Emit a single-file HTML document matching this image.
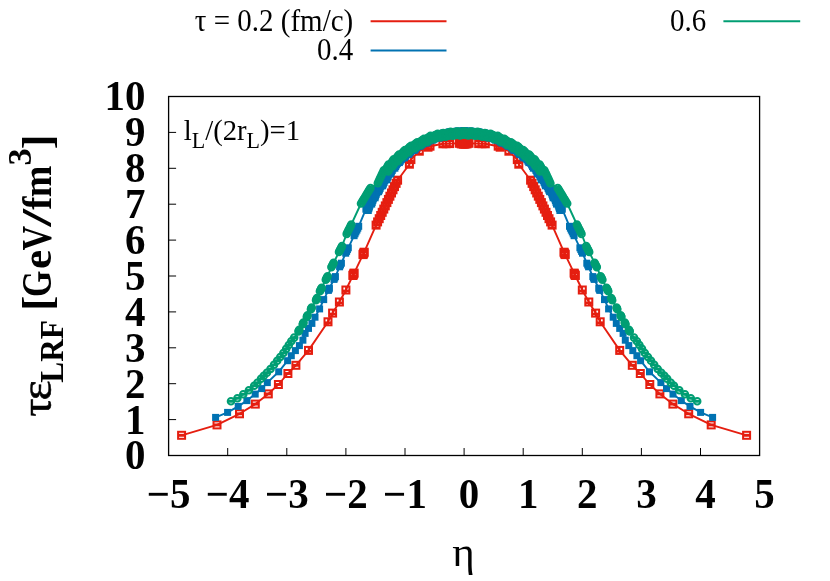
<!DOCTYPE html>
<html><head><meta charset="utf-8"><title>plot</title>
<style>
html,body{margin:0;padding:0;background:#fff;}
svg{display:block;font-family:"Liberation Serif",serif;}
</style></head><body>
<svg width="830" height="581" viewBox="0 0 830 581">
<defs>
<marker id="mr" markerUnits="userSpaceOnUse" markerWidth="12" markerHeight="12" refX="0" refY="0" viewBox="-6 -6 12 12"><rect x="-3.5" y="-3.5" width="7" height="7" fill="none" stroke="#e51e10" stroke-width="2"/><path d="M-3.5,0 h7" stroke="#e51e10" stroke-width="2.9"/></marker>
<marker id="mr3" markerUnits="userSpaceOnUse" markerWidth="12" markerHeight="12" refX="0" refY="0" viewBox="-6 -6 12 12"><rect x="-3.5" y="-3.5" width="7" height="7" fill="none" stroke="#e51e10" stroke-width="2"/><path d="M-3.5,0.9 h7" stroke="#e51e10" stroke-width="2.6"/><path d="M0,-3.5 v7" stroke="#e51e10" stroke-width="1.6"/></marker>
<marker id="mr2" markerUnits="userSpaceOnUse" markerWidth="12" markerHeight="12" refX="0" refY="0" viewBox="-6 -6 12 12"><rect x="-3.5" y="-3.5" width="7" height="7" fill="none" stroke="#e51e10" stroke-width="2"/><path d="M-3.5,-2.5 h7 M-3.5,2.5 h7" stroke="#e51e10" stroke-width="1.8"/><path d="M0,-3.5 v7" stroke="#e51e10" stroke-width="1.5"/></marker>
<marker id="mb" markerUnits="userSpaceOnUse" markerWidth="12" markerHeight="12" refX="0" refY="0" viewBox="-6 -6 12 12"><rect x="-3.5" y="-3.5" width="7" height="7" fill="#0072b2"/></marker>
<marker id="mg" markerUnits="userSpaceOnUse" markerWidth="12" markerHeight="12" refX="0" refY="0" viewBox="-6 -6 12 12"><circle r="3.3" fill="none" stroke="#009e73" stroke-width="2"/><path d="M-3.5,0 h7" stroke="#009e73" stroke-width="2.9"/></marker>
</defs>
<rect width="830" height="581" fill="#fff"/>
<g opacity="0.999">
<!-- legend -->
<g font-size="31px" fill="#000">
<text transform="translate(353.2,30.9) scale(0.935,1)" text-anchor="end">τ = 0.2 (fm/c)</text>
<text transform="translate(353.2,60.4) scale(0.935,1)" text-anchor="end">0.4</text>
<text transform="translate(706.2,30.9) scale(0.935,1)" text-anchor="end">0.6</text>
</g>
<path d="M370.6,21.2 H446.5" stroke="#e51e10" stroke-width="2"/>
<path d="M370.6,50.5 H446.5" stroke="#0072b2" stroke-width="1.9"/>
<path d="M723.4,21.2 H800.2" stroke="#009e73" stroke-width="1.9"/>
<!-- axes ticks -->
<g stroke="#000" stroke-width="1" fill="none"><path d="M227.7,455.5 v-7.5"/><path d="M286.8,455.5 v-7.5"/><path d="M345.9,455.5 v-7.5"/><path d="M405.0,455.5 v-7.5"/><path d="M464.1,455.5 v-7.5"/><path d="M523.2,455.5 v-7.5"/><path d="M582.3,455.5 v-7.5"/><path d="M641.4,455.5 v-7.5"/><path d="M700.5,455.5 v-7.5"/><path d="M168.6,419.6 h7.5"/><path d="M168.6,383.7 h7.5"/><path d="M168.6,347.8 h7.5"/><path d="M168.6,311.9 h7.5"/><path d="M168.6,276.0 h7.5"/><path d="M168.6,240.1 h7.5"/><path d="M168.6,204.2 h7.5"/><path d="M168.6,168.3 h7.5"/><path d="M168.6,132.4 h7.5"/></g>
<!-- tick labels -->
<g font-size="42px" font-weight="bold" fill="#000"><text transform="translate(145.4,469.4) scale(0.975,1)" text-anchor="end">0</text><text transform="translate(145.4,433.5) scale(0.975,1)" text-anchor="end">1</text><text transform="translate(145.4,397.6) scale(0.975,1)" text-anchor="end">2</text><text transform="translate(145.4,361.7) scale(0.975,1)" text-anchor="end">3</text><text transform="translate(145.4,325.8) scale(0.975,1)" text-anchor="end">4</text><text transform="translate(145.4,289.9) scale(0.975,1)" text-anchor="end">5</text><text transform="translate(145.4,254.0) scale(0.975,1)" text-anchor="end">6</text><text transform="translate(145.4,218.1) scale(0.975,1)" text-anchor="end">7</text><text transform="translate(145.4,182.2) scale(0.975,1)" text-anchor="end">8</text><text transform="translate(145.4,146.3) scale(0.975,1)" text-anchor="end">9</text><text transform="translate(145.4,110.4) scale(0.975,1)" text-anchor="end">10</text><text transform="translate(168.6,508.4) scale(0.975,1)" text-anchor="middle">−5</text><text transform="translate(227.7,508.4) scale(0.975,1)" text-anchor="middle">−4</text><text transform="translate(286.8,508.4) scale(0.975,1)" text-anchor="middle">−3</text><text transform="translate(345.9,508.4) scale(0.975,1)" text-anchor="middle">−2</text><text transform="translate(405.0,508.4) scale(0.975,1)" text-anchor="middle">−1</text><text transform="translate(469.1,508.4) scale(0.975,1)" text-anchor="middle">0</text><text transform="translate(528.2,508.4) scale(0.975,1)" text-anchor="middle">1</text><text transform="translate(587.3,508.4) scale(0.975,1)" text-anchor="middle">2</text><text transform="translate(646.4,508.4) scale(0.975,1)" text-anchor="middle">3</text><text transform="translate(705.5,508.4) scale(0.975,1)" text-anchor="middle">4</text><text transform="translate(764.6,508.4) scale(0.975,1)" text-anchor="middle">5</text></g>
<!-- axis titles -->
<text x="463.6" y="565.6" font-size="43px" text-anchor="middle" fill="#000">η</text>
<text transform="translate(51.0,416.79) rotate(-90) scale(1.087,1.05)" font-size="42px" font-weight="normal" fill="#000" stroke="#000" stroke-width="0.5">τ</text><text transform="translate(51.0,400.61) rotate(-90) scale(1.146,1.04)" font-size="42px" font-weight="normal" fill="#000" stroke="#000" stroke-width="0.5">ε</text><text transform="translate(62.6,382.68) rotate(-90) scale(0.950,1.0)" font-size="33px" font-weight="bold" fill="#000">LRF</text><text transform="translate(51.0,311.08) rotate(-90) scale(1.095,1.0)" font-size="42px" font-weight="bold" fill="#000">[</text><text transform="translate(51.0,297.01) rotate(-90) scale(0.807,1.0)" font-size="42px" font-weight="bold" fill="#000">G</text><text transform="translate(51.0,269.05) rotate(-90) scale(1.031,1.0)" font-size="42px" font-weight="bold" fill="#000">e</text><text transform="translate(51.0,250.41) rotate(-90) scale(0.814,1.0)" font-size="42px" font-weight="bold" fill="#000">V</text><text transform="translate(51.0,226.82) rotate(-90) scale(1.527,1.0)" font-size="42px" font-weight="bold" fill="#000">/</text><text transform="translate(51.0,209.74) rotate(-90) scale(0.940,1.0)" font-size="42px" font-weight="bold" fill="#000">f</text><text transform="translate(51.0,197.23) rotate(-90) scale(0.906,1.0)" font-size="42px" font-weight="bold" fill="#000">m</text><text transform="translate(30.9,165.39) rotate(-90) scale(1.036,1.0)" font-size="33px" font-weight="bold" fill="#000">3</text><text transform="translate(51.0,149.17) rotate(-90) scale(1.049,1.0)" font-size="42px" font-weight="bold" fill="#000">]</text>
<!-- annotation -->
<text transform="translate(183.8,139.9) scale(0.956,1)" font-size="30px" fill="#000">l<tspan font-size="23px" dy="7.8">L</tspan><tspan dy="-7.8">/(2r</tspan><tspan font-size="23px" dy="7.8">L</tspan><tspan dy="-7.8">)=1</tspan></text>
</g>
<!-- data -->
<path d="M181.6,435.3 L217.0,424.9 L239.5,413.8 L255.3,404.1 L268.3,393.9 L278.4,384.5 L287.9,373.5 L295.9,365.3 L308.5,350.4 L328.0,321.8 L332.6,313.1 L339.4,302.0 L345.9,290.0 L352.9,275.5 L353.3,274.7 L353.7,273.9 L354.1,273.1 L363.0,254.6 L363.4,253.8 L363.8,253.0 L364.2,252.2 L376.1,225.1 L377.6,221.9 L379.2,218.7 L380.7,215.5 L382.2,212.3 L383.8,209.1 L385.3,205.9 L386.9,202.6 L388.4,199.4 L389.9,196.2 L391.5,193.0 L393.0,189.8 L394.5,186.6 L396.1,183.4 L397.6,180.2 L409.4,164.2 L410.9,159.6 L419.3,151.2 L428.0,147.2 L430.0,146.2 L442.9,143.8 L446.2,143.7 L449.5,143.6 L459.2,143.3 L460.2,142.6 L461.2,143.9 L462.2,142.3 L463.2,144.2 L464.1,143.2 L465.0,144.2 L466.0,142.3 L467.0,143.9 L468.0,142.6 L469.0,143.3 L478.7,143.6 L482.0,143.7 L485.3,143.8 L498.2,146.2 L500.2,147.2 L508.9,151.2 L517.3,159.6 L518.8,164.2 L530.6,180.2 L532.1,183.4 L533.7,186.6 L535.2,189.8 L536.7,193.0 L538.3,196.2 L539.8,199.4 L541.4,202.6 L542.9,205.9 L544.4,209.1 L546.0,212.3 L547.5,215.5 L549.0,218.7 L550.6,221.9 L552.1,225.1 L564.0,252.2 L564.4,253.0 L564.8,253.8 L565.2,254.6 L574.1,273.1 L574.5,273.9 L574.9,274.7 L575.3,275.5 L582.3,290.0 L588.8,302.0 L595.6,313.1 L600.2,321.8 L619.7,350.4 L632.3,365.3 L640.3,373.5 L649.8,384.5 L659.9,393.9 L672.9,404.1 L688.7,413.8 L711.2,424.9 L746.6,435.3" fill="none" stroke="#e51e10" stroke-width="1.9" stroke-linejoin="round"/><path d="M181.6,435.3 L217.0,424.9 L239.5,413.8 L255.3,404.1 L268.3,393.9 L278.4,384.5 L287.9,373.5 L295.9,365.3" fill="none" stroke="none" marker-start="url(#mr)" marker-mid="url(#mr)" marker-end="url(#mr)"/><path d="M308.5,350.4 L328.0,321.8 L332.6,313.1 L339.4,302.0 L345.9,290.0" fill="none" stroke="none" marker-start="url(#mr3)" marker-mid="url(#mr3)" marker-end="url(#mr3)"/><path d="M352.9,275.5 L353.3,274.7 L353.7,273.9 L354.1,273.1 L363.0,254.6 L363.4,253.8 L363.8,253.0 L364.2,252.2 L376.1,225.1 L377.6,221.9 L379.2,218.7 L380.7,215.5 L382.2,212.3 L383.8,209.1 L385.3,205.9 L386.9,202.6 L388.4,199.4 L389.9,196.2 L391.5,193.0 L393.0,189.8 L394.5,186.6 L396.1,183.4 L397.6,180.2 L409.4,164.2 L410.9,159.6 L419.3,151.2 L428.0,147.2 L430.0,146.2 L442.9,143.8 L446.2,143.7 L449.5,143.6 L459.2,143.3 L460.2,142.6 L461.2,143.9 L462.2,142.3 L463.2,144.2 L464.1,143.2 L465.0,144.2 L466.0,142.3 L467.0,143.9 L468.0,142.6 L469.0,143.3 L478.7,143.6 L482.0,143.7 L485.3,143.8 L498.2,146.2 L500.2,147.2 L508.9,151.2 L517.3,159.6 L518.8,164.2 L530.6,180.2 L532.1,183.4 L533.7,186.6 L535.2,189.8 L536.7,193.0 L538.3,196.2 L539.8,199.4 L541.4,202.6 L542.9,205.9 L544.4,209.1 L546.0,212.3 L547.5,215.5 L549.0,218.7 L550.6,221.9 L552.1,225.1 L564.0,252.2 L564.4,253.0 L564.8,253.8 L565.2,254.6 L574.1,273.1 L574.5,273.9 L574.9,274.7 L575.3,275.5" fill="none" stroke="none" marker-start="url(#mr2)" marker-mid="url(#mr2)" marker-end="url(#mr2)"/><path d="M582.3,290.0 L588.8,302.0 L595.6,313.1 L600.2,321.8 L619.7,350.4" fill="none" stroke="none" marker-start="url(#mr3)" marker-mid="url(#mr3)" marker-end="url(#mr3)"/><path d="M632.3,365.3 L640.3,373.5 L649.8,384.5 L659.9,393.9 L672.9,404.1 L688.7,413.8 L711.2,424.9 L746.6,435.3" fill="none" stroke="none" marker-start="url(#mr)" marker-mid="url(#mr)" marker-end="url(#mr)"/>
<path d="M215.6,417.4 L227.6,412.4 L238.2,406.4 L246.9,400.6 L255.2,394.1 L261.7,388.6 L267.3,382.6 L278.7,371.8 L287.6,360.7 L291.3,355.7 L295.4,350.6 L299.4,345.6 L302.9,340.2 L305.1,333.4 L308.5,328.4 L311.9,323.4 L315.0,317.2 L319.6,308.9 L323.7,299.6 L328.4,290.4 L328.9,289.3 L329.4,288.2 L334.0,279.4 L334.7,278.0 L335.4,276.6 L339.6,266.8 L340.5,265.0 L341.4,263.2 L345.7,253.2 L346.6,251.4 L347.4,249.6 L348.3,247.8 L354.1,235.7 L355.0,233.8 L355.9,231.9 L356.9,230.1 L357.8,228.2 L358.7,226.3 L365.9,209.2 L366.5,207.4 L367.0,205.7 L367.1,209.8 L367.6,203.9 L367.6,208.1 L368.2,206.3 L368.3,210.5 L368.8,204.6 L368.8,208.7 L369.3,202.8 L369.4,207.0 L369.9,201.1 L369.9,205.2 L370.5,199.4 L370.5,203.5 L371.0,197.6 L371.1,201.7 L371.6,200.0 L371.7,204.1 L372.2,198.2 L372.2,202.4 L372.7,196.5 L372.8,200.6 L373.3,194.8 L373.4,198.9 L373.9,193.0 L373.9,197.1 L374.5,195.4 L374.6,191.2 L375.0,193.7 L375.1,197.8 L375.6,196.0 L375.7,191.9 L376.2,194.3 L376.4,190.2 L376.8,192.7 L377.2,188.6 L377.5,191.0 L377.9,186.9 L378.3,189.3 L378.6,185.2 L378.6,191.7 L379.0,187.6 L379.4,190.1 L379.7,185.9 L380.1,188.4 L380.4,184.3 L380.8,186.7 L381.2,182.6 L381.6,185.0 L381.9,180.9 L382.3,183.3 L382.6,179.2 L382.7,185.8 L383.0,181.7 L383.4,184.1 L383.7,180.0 L384.1,182.4 L384.5,178.3 L384.8,180.7 L385.2,176.6 L385.6,179.0 L385.9,174.9 L386.3,177.4 L386.7,173.3 L386.7,179.8 L387.0,175.7 L387.4,178.1 L387.8,174.0 L388.1,176.4 L388.5,172.3 L388.9,174.8 L389.2,170.6 L389.6,173.1 L390.0,169.0 L390.3,171.4 L390.7,173.8 L390.9,167.2 L391.1,169.7 L391.4,172.1 L391.9,168.1 L392.2,170.5 L392.8,166.5 L392.9,168.9 L393.7,164.8 L393.8,167.3 L394.6,163.2 L394.7,165.7 L394.9,168.2 L395.4,161.6 L395.6,164.1 L395.7,166.5 L396.5,162.5 L396.6,164.9 L397.3,160.9 L397.5,163.3 L398.4,161.7 L398.5,159.2 L399.4,160.2 L399.4,162.6 L399.6,157.8 L400.3,161.2 L400.5,158.8 L400.7,156.3 L401.4,159.7 L401.6,157.3 L402.5,158.3 L402.7,155.8 L403.6,156.8 L403.8,154.4 L404.5,157.8 L404.7,155.3 L404.9,152.9 L405.6,156.3 L405.8,153.9 L406.7,154.9 L406.8,152.4 L407.7,153.4 L408.1,150.9 L408.6,154.4 L408.9,152.0 L409.4,149.6 L409.6,153.1 L410.2,150.7 L410.7,148.3 L410.9,151.8 L411.5,149.4 L412.2,150.5 L412.7,148.1 L413.5,149.2 L414.0,146.8 L414.3,150.3 L414.8,147.9 L415.3,145.5 L415.5,149.0 L416.1,146.6 L416.6,144.2 L416.8,147.7 L417.4,145.3 L418.1,146.4 L418.6,144.0 L419.4,145.1 L420.2,142.7 L420.2,146.2 L420.7,143.9 L421.3,145.1 L421.7,141.6 L422.2,142.8 L422.8,144.1 L423.1,140.6 L423.7,141.8 L424.3,143.0 L425.2,140.7 L425.8,141.9 L426.3,143.1 L426.7,139.7 L427.2,140.9 L427.8,142.1 L428.2,138.6 L428.7,139.8 L429.3,141.0 L429.7,137.5 L430.2,138.7 L430.8,139.9 L431.7,137.7 L432.3,138.9 L432.8,140.1 L433.4,136.6 L433.8,137.9 L434.1,139.2 L435.1,135.8 L435.4,137.1 L435.8,138.3 L436.7,135.0 L437.1,136.3 L437.4,137.5 L438.7,135.4 L439.1,136.7 L439.4,138.0 L440.3,134.6 L440.7,135.9 L441.0,137.2 L442.0,133.8 L442.3,135.1 L442.7,136.4 L443.6,133.0 L444.0,134.3 L444.3,135.6 L445.6,133.5 L446.0,134.8 L446.3,136.1 L447.3,132.7 L447.6,134.0 L448.0,135.3 L449.2,131.9 L449.3,133.3 L449.4,134.6 L451.0,131.5 L451.1,132.8 L451.2,134.1 L452.9,132.3 L453.0,133.6 L453.1,135.0 L454.6,131.8 L454.8,133.2 L454.9,134.5 L456.4,131.3 L456.5,132.7 L456.6,134.0 L458.2,130.9 L458.3,132.2 L458.4,133.5 L460.1,131.7 L460.2,133.0 L460.3,134.4 L461.8,131.2 L461.9,132.6 L462.0,133.9 L463.6,130.7 L463.7,132.1 L463.8,133.4 L464.4,133.4 L464.5,132.1 L464.6,130.7 L466.2,133.9 L466.3,132.6 L466.4,131.2 L467.9,134.4 L468.0,133.0 L468.1,131.7 L469.8,133.5 L469.9,132.2 L470.0,130.9 L471.6,134.0 L471.7,132.7 L471.8,131.3 L473.3,134.5 L473.4,133.2 L473.6,131.8 L475.1,135.0 L475.2,133.6 L475.3,132.3 L477.0,134.1 L477.1,132.8 L477.2,131.5 L478.8,134.6 L478.9,133.3 L479.0,131.9 L480.2,135.3 L480.6,134.0 L480.9,132.7 L481.9,136.1 L482.2,134.8 L482.6,133.5 L483.9,135.6 L484.2,134.3 L484.6,133.0 L485.5,136.4 L485.9,135.1 L486.2,133.8 L487.2,137.2 L487.5,135.9 L487.9,134.6 L488.8,138.0 L489.1,136.7 L489.5,135.4 L490.8,137.5 L491.1,136.3 L491.5,135.0 L492.4,138.3 L492.8,137.1 L493.1,135.8 L494.1,139.2 L494.4,137.9 L494.8,136.6 L495.4,140.1 L495.9,138.9 L496.5,137.7 L497.4,139.9 L498.0,138.7 L498.5,137.5 L498.9,141.0 L499.5,139.8 L500.0,138.6 L500.4,142.1 L501.0,140.9 L501.5,139.7 L501.9,143.1 L502.4,141.9 L503.0,140.7 L503.9,143.0 L504.5,141.8 L505.1,140.6 L505.4,144.1 L506.0,142.8 L506.5,141.6 L506.9,145.1 L507.5,143.9 L508.0,146.2 L508.0,142.7 L508.8,145.1 L509.6,144.0 L510.1,146.4 L510.8,145.3 L511.4,147.7 L511.6,144.2 L512.1,146.6 L512.7,149.0 L512.9,145.5 L513.4,147.9 L513.9,150.3 L514.2,146.8 L514.7,149.2 L515.5,148.1 L516.0,150.5 L516.7,149.4 L517.3,151.8 L517.5,148.3 L518.0,150.7 L518.6,153.1 L518.8,149.6 L519.3,152.0 L519.6,154.4 L520.1,150.9 L520.5,153.4 L521.4,152.4 L521.5,154.9 L522.4,153.9 L522.6,156.3 L523.3,152.9 L523.5,155.3 L523.7,157.8 L524.4,154.4 L524.6,156.8 L525.5,155.8 L525.7,158.3 L526.6,157.3 L526.8,159.7 L527.5,156.3 L527.7,158.8 L527.9,161.2 L528.6,157.8 L528.8,162.6 L528.8,160.2 L529.7,159.2 L529.8,161.7 L530.7,163.3 L530.9,160.9 L531.6,164.9 L531.7,162.5 L532.5,166.5 L532.6,164.1 L532.8,161.6 L533.3,168.2 L533.5,165.7 L533.6,163.2 L534.4,167.3 L534.5,164.8 L535.3,168.9 L535.4,166.5 L536.0,170.5 L536.3,168.1 L536.8,172.1 L537.1,169.7 L537.3,167.2 L537.5,173.8 L537.9,171.4 L538.2,169.0 L538.6,173.1 L539.0,170.6 L539.3,174.8 L539.7,172.3 L540.1,176.4 L540.4,174.0 L540.8,178.1 L541.2,175.7 L541.5,179.8 L541.5,173.3 L541.9,177.4 L542.3,174.9 L542.6,179.0 L543.0,176.6 L543.4,180.7 L543.7,178.3 L544.1,182.4 L544.5,180.0 L544.8,184.1 L545.2,181.7 L545.5,185.8 L545.6,179.2 L545.9,183.3 L546.3,180.9 L546.6,185.0 L547.0,182.6 L547.4,186.7 L547.8,184.3 L548.1,188.4 L548.5,185.9 L548.8,190.1 L549.2,187.6 L549.6,191.7 L549.6,185.2 L549.9,189.3 L550.3,186.9 L550.7,191.0 L551.0,188.6 L551.4,192.7 L551.8,190.2 L552.0,194.3 L552.5,191.9 L552.6,196.0 L553.1,197.8 L553.2,193.7 L553.6,191.2 L553.7,195.4 L554.3,197.1 L554.3,193.0 L554.8,198.9 L554.9,194.8 L555.4,200.6 L555.5,196.5 L556.0,202.4 L556.0,198.2 L556.5,204.1 L556.6,200.0 L557.1,201.7 L557.2,197.6 L557.7,203.5 L557.7,199.4 L558.3,205.2 L558.3,201.1 L558.8,207.0 L558.9,202.8 L559.4,208.7 L559.4,204.6 L559.9,210.5 L560.0,206.3 L560.6,208.1 L560.6,203.9 L561.1,209.8 L561.2,205.7 L561.7,207.4 L562.3,209.2 L569.5,226.3 L570.4,228.2 L571.3,230.1 L572.3,231.9 L573.2,233.8 L574.1,235.7 L579.9,247.8 L580.8,249.6 L581.6,251.4 L582.5,253.2 L586.8,263.2 L587.7,265.0 L588.6,266.8 L592.8,276.6 L593.5,278.0 L594.2,279.4 L598.8,288.2 L599.3,289.3 L599.8,290.4 L604.5,299.6 L608.6,308.9 L613.2,317.2 L616.3,323.4 L619.7,328.4 L623.1,333.4 L625.3,340.2 L628.8,345.6 L632.8,350.6 L636.9,355.7 L640.6,360.7 L649.5,371.8 L660.9,382.6 L666.5,388.6 L673.0,394.1 L681.3,400.6 L690.0,406.4 L700.6,412.4 L712.6,417.4" fill="none" stroke="#0072b2" stroke-width="1.9" stroke-linejoin="round"/><path d="M215.6,417.4 L227.6,412.4 L238.2,406.4 L246.9,400.6 L255.2,394.1 L261.7,388.6 L267.3,382.6 L278.7,371.8 L287.6,360.7 L291.3,355.7 L295.4,350.6 L299.4,345.6 L302.9,340.2 L305.1,333.4 L308.5,328.4 L311.9,323.4 L315.0,317.2 L319.6,308.9 L323.7,299.6 L328.4,290.4 L328.9,289.3 L329.4,288.2 L334.0,279.4 L334.7,278.0 L335.4,276.6 L339.6,266.8 L340.5,265.0 L341.4,263.2 L345.7,253.2 L346.6,251.4 L347.4,249.6 L348.3,247.8 L354.1,235.7 L355.0,233.8 L355.9,231.9 L356.9,230.1 L357.8,228.2 L358.7,226.3 L365.9,209.2 L366.5,207.4 L367.0,205.7 L367.1,209.8 L367.6,203.9 L367.6,208.1 L368.2,206.3 L368.3,210.5 L368.8,204.6 L368.8,208.7 L369.3,202.8 L369.4,207.0 L369.9,201.1 L369.9,205.2 L370.5,199.4 L370.5,203.5 L371.0,197.6 L371.1,201.7 L371.6,200.0 L371.7,204.1 L372.2,198.2 L372.2,202.4 L372.7,196.5 L372.8,200.6 L373.3,194.8 L373.4,198.9 L373.9,193.0 L373.9,197.1 L374.5,195.4 L374.6,191.2 L375.0,193.7 L375.1,197.8 L375.6,196.0 L375.7,191.9 L376.2,194.3 L376.4,190.2 L376.8,192.7 L377.2,188.6 L377.5,191.0 L377.9,186.9 L378.3,189.3 L378.6,185.2 L378.6,191.7 L379.0,187.6 L379.4,190.1 L379.7,185.9 L380.1,188.4 L380.4,184.3 L380.8,186.7 L381.2,182.6 L381.6,185.0 L381.9,180.9 L382.3,183.3 L382.6,179.2 L382.7,185.8 L383.0,181.7 L383.4,184.1 L383.7,180.0 L384.1,182.4 L384.5,178.3 L384.8,180.7 L385.2,176.6 L385.6,179.0 L385.9,174.9 L386.3,177.4 L386.7,173.3 L386.7,179.8 L387.0,175.7 L387.4,178.1 L387.8,174.0 L388.1,176.4 L388.5,172.3 L388.9,174.8 L389.2,170.6 L389.6,173.1 L390.0,169.0 L390.3,171.4 L390.7,173.8 L390.9,167.2 L391.1,169.7 L391.4,172.1 L391.9,168.1 L392.2,170.5 L392.8,166.5 L392.9,168.9 L393.7,164.8 L393.8,167.3 L394.6,163.2 L394.7,165.7 L394.9,168.2 L395.4,161.6 L395.6,164.1 L395.7,166.5 L396.5,162.5 L396.6,164.9 L397.3,160.9 L397.5,163.3 L398.4,161.7 L398.5,159.2 L399.4,160.2 L399.4,162.6 L399.6,157.8 L400.3,161.2 L400.5,158.8 L400.7,156.3 L401.4,159.7 L401.6,157.3 L402.5,158.3 L402.7,155.8 L403.6,156.8 L403.8,154.4 L404.5,157.8 L404.7,155.3 L404.9,152.9 L405.6,156.3 L405.8,153.9 L406.7,154.9 L406.8,152.4 L407.7,153.4 L408.1,150.9 L408.6,154.4 L408.9,152.0 L409.4,149.6 L409.6,153.1 L410.2,150.7 L410.7,148.3 L410.9,151.8 L411.5,149.4 L412.2,150.5 L412.7,148.1 L413.5,149.2 L414.0,146.8 L414.3,150.3 L414.8,147.9 L415.3,145.5 L415.5,149.0 L416.1,146.6 L416.6,144.2 L416.8,147.7 L417.4,145.3 L418.1,146.4 L418.6,144.0 L419.4,145.1 L420.2,142.7 L420.2,146.2 L420.7,143.9 L421.3,145.1 L421.7,141.6 L422.2,142.8 L422.8,144.1 L423.1,140.6 L423.7,141.8 L424.3,143.0 L425.2,140.7 L425.8,141.9 L426.3,143.1 L426.7,139.7 L427.2,140.9 L427.8,142.1 L428.2,138.6 L428.7,139.8 L429.3,141.0 L429.7,137.5 L430.2,138.7 L430.8,139.9 L431.7,137.7 L432.3,138.9 L432.8,140.1 L433.4,136.6 L433.8,137.9 L434.1,139.2 L435.1,135.8 L435.4,137.1 L435.8,138.3 L436.7,135.0 L437.1,136.3 L437.4,137.5 L438.7,135.4 L439.1,136.7 L439.4,138.0 L440.3,134.6 L440.7,135.9 L441.0,137.2 L442.0,133.8 L442.3,135.1 L442.7,136.4 L443.6,133.0 L444.0,134.3 L444.3,135.6 L445.6,133.5 L446.0,134.8 L446.3,136.1 L447.3,132.7 L447.6,134.0 L448.0,135.3 L449.2,131.9 L449.3,133.3 L449.4,134.6 L451.0,131.5 L451.1,132.8 L451.2,134.1 L452.9,132.3 L453.0,133.6 L453.1,135.0 L454.6,131.8 L454.8,133.2 L454.9,134.5 L456.4,131.3 L456.5,132.7 L456.6,134.0 L458.2,130.9 L458.3,132.2 L458.4,133.5 L460.1,131.7 L460.2,133.0 L460.3,134.4 L461.8,131.2 L461.9,132.6 L462.0,133.9 L463.6,130.7 L463.7,132.1 L463.8,133.4 L464.4,133.4 L464.5,132.1 L464.6,130.7 L466.2,133.9 L466.3,132.6 L466.4,131.2 L467.9,134.4 L468.0,133.0 L468.1,131.7 L469.8,133.5 L469.9,132.2 L470.0,130.9 L471.6,134.0 L471.7,132.7 L471.8,131.3 L473.3,134.5 L473.4,133.2 L473.6,131.8 L475.1,135.0 L475.2,133.6 L475.3,132.3 L477.0,134.1 L477.1,132.8 L477.2,131.5 L478.8,134.6 L478.9,133.3 L479.0,131.9 L480.2,135.3 L480.6,134.0 L480.9,132.7 L481.9,136.1 L482.2,134.8 L482.6,133.5 L483.9,135.6 L484.2,134.3 L484.6,133.0 L485.5,136.4 L485.9,135.1 L486.2,133.8 L487.2,137.2 L487.5,135.9 L487.9,134.6 L488.8,138.0 L489.1,136.7 L489.5,135.4 L490.8,137.5 L491.1,136.3 L491.5,135.0 L492.4,138.3 L492.8,137.1 L493.1,135.8 L494.1,139.2 L494.4,137.9 L494.8,136.6 L495.4,140.1 L495.9,138.9 L496.5,137.7 L497.4,139.9 L498.0,138.7 L498.5,137.5 L498.9,141.0 L499.5,139.8 L500.0,138.6 L500.4,142.1 L501.0,140.9 L501.5,139.7 L501.9,143.1 L502.4,141.9 L503.0,140.7 L503.9,143.0 L504.5,141.8 L505.1,140.6 L505.4,144.1 L506.0,142.8 L506.5,141.6 L506.9,145.1 L507.5,143.9 L508.0,146.2 L508.0,142.7 L508.8,145.1 L509.6,144.0 L510.1,146.4 L510.8,145.3 L511.4,147.7 L511.6,144.2 L512.1,146.6 L512.7,149.0 L512.9,145.5 L513.4,147.9 L513.9,150.3 L514.2,146.8 L514.7,149.2 L515.5,148.1 L516.0,150.5 L516.7,149.4 L517.3,151.8 L517.5,148.3 L518.0,150.7 L518.6,153.1 L518.8,149.6 L519.3,152.0 L519.6,154.4 L520.1,150.9 L520.5,153.4 L521.4,152.4 L521.5,154.9 L522.4,153.9 L522.6,156.3 L523.3,152.9 L523.5,155.3 L523.7,157.8 L524.4,154.4 L524.6,156.8 L525.5,155.8 L525.7,158.3 L526.6,157.3 L526.8,159.7 L527.5,156.3 L527.7,158.8 L527.9,161.2 L528.6,157.8 L528.8,162.6 L528.8,160.2 L529.7,159.2 L529.8,161.7 L530.7,163.3 L530.9,160.9 L531.6,164.9 L531.7,162.5 L532.5,166.5 L532.6,164.1 L532.8,161.6 L533.3,168.2 L533.5,165.7 L533.6,163.2 L534.4,167.3 L534.5,164.8 L535.3,168.9 L535.4,166.5 L536.0,170.5 L536.3,168.1 L536.8,172.1 L537.1,169.7 L537.3,167.2 L537.5,173.8 L537.9,171.4 L538.2,169.0 L538.6,173.1 L539.0,170.6 L539.3,174.8 L539.7,172.3 L540.1,176.4 L540.4,174.0 L540.8,178.1 L541.2,175.7 L541.5,179.8 L541.5,173.3 L541.9,177.4 L542.3,174.9 L542.6,179.0 L543.0,176.6 L543.4,180.7 L543.7,178.3 L544.1,182.4 L544.5,180.0 L544.8,184.1 L545.2,181.7 L545.5,185.8 L545.6,179.2 L545.9,183.3 L546.3,180.9 L546.6,185.0 L547.0,182.6 L547.4,186.7 L547.8,184.3 L548.1,188.4 L548.5,185.9 L548.8,190.1 L549.2,187.6 L549.6,191.7 L549.6,185.2 L549.9,189.3 L550.3,186.9 L550.7,191.0 L551.0,188.6 L551.4,192.7 L551.8,190.2 L552.0,194.3 L552.5,191.9 L552.6,196.0 L553.1,197.8 L553.2,193.7 L553.6,191.2 L553.7,195.4 L554.3,197.1 L554.3,193.0 L554.8,198.9 L554.9,194.8 L555.4,200.6 L555.5,196.5 L556.0,202.4 L556.0,198.2 L556.5,204.1 L556.6,200.0 L557.1,201.7 L557.2,197.6 L557.7,203.5 L557.7,199.4 L558.3,205.2 L558.3,201.1 L558.8,207.0 L558.9,202.8 L559.4,208.7 L559.4,204.6 L559.9,210.5 L560.0,206.3 L560.6,208.1 L560.6,203.9 L561.1,209.8 L561.2,205.7 L561.7,207.4 L562.3,209.2 L569.5,226.3 L570.4,228.2 L571.3,230.1 L572.3,231.9 L573.2,233.8 L574.1,235.7 L579.9,247.8 L580.8,249.6 L581.6,251.4 L582.5,253.2 L586.8,263.2 L587.7,265.0 L588.6,266.8 L592.8,276.6 L593.5,278.0 L594.2,279.4 L598.8,288.2 L599.3,289.3 L599.8,290.4 L604.5,299.6 L608.6,308.9 L613.2,317.2 L616.3,323.4 L619.7,328.4 L623.1,333.4 L625.3,340.2 L628.8,345.6 L632.8,350.6 L636.9,355.7 L640.6,360.7 L649.5,371.8 L660.9,382.6 L666.5,388.6 L673.0,394.1 L681.3,400.6 L690.0,406.4 L700.6,412.4 L712.6,417.4" fill="none" stroke="none" marker-start="url(#mb)" marker-mid="url(#mb)" marker-end="url(#mb)"/>
<path d="M231.0,401.3 L237.4,398.2 L243.3,394.3 L248.9,390.2 L254.2,385.7 L257.4,382.8 L261.0,378.8 L263.8,375.8 L266.9,372.7 L270.5,369.0 L274.0,364.8 L277.2,360.7 L280.3,357.0 L283.4,353.0 L286.2,348.9 L288.8,345.0 L291.3,341.2 L294.2,337.6 L298.5,331.4 L298.9,330.6 L299.3,329.8 L302.7,324.2 L303.1,323.4 L303.5,322.6 L306.8,316.9 L307.2,316.1 L307.6,315.3 L310.9,309.3 L311.3,308.4 L311.7,307.5 L316.0,300.2 L316.5,299.1 L317.0,298.0 L319.9,291.3 L320.5,290.1 L321.1,288.9 L321.7,287.7 L325.8,279.8 L326.4,278.6 L327.0,277.4 L327.6,276.2 L331.4,267.1 L332.1,265.7 L332.9,264.3 L333.6,262.9 L339.0,252.0 L339.7,250.5 L340.5,249.0 L341.3,247.5 L342.0,246.0 L346.7,233.9 L347.6,232.0 L348.5,230.1 L349.5,228.3 L350.4,226.4 L351.3,224.5 L361.0,203.5 L362.2,201.6 L363.4,199.6 L364.6,197.7 L365.8,195.8 L366.9,193.8 L368.1,191.9 L369.3,189.9 L370.5,188.0 L377.8,183.2 L378.8,181.0 L379.8,178.9 L380.8,176.8 L381.8,174.6 L382.8,172.5 L383.8,170.3 L385.9,169.5 L386.8,167.9 L387.1,170.5 L387.6,166.3 L387.9,168.8 L388.2,171.4 L388.5,164.6 L388.8,167.2 L389.1,169.8 L389.6,165.6 L389.9,168.1 L390.6,164.0 L390.8,166.5 L391.7,162.5 L391.7,165.0 L392.7,160.9 L392.7,163.5 L392.7,166.1 L393.7,159.4 L393.7,162.0 L393.7,164.5 L394.7,160.4 L394.7,163.0 L395.8,161.5 L395.8,158.9 L396.8,160.0 L396.9,157.4 L397.8,161.1 L397.9,158.5 L398.0,155.9 L398.9,159.6 L399.0,157.0 L399.1,154.5 L399.9,158.1 L400.0,155.6 L401.0,156.6 L401.3,154.1 L402.1,155.3 L402.5,152.8 L403.0,156.5 L403.4,153.9 L403.7,151.4 L404.2,155.1 L404.6,152.6 L405.0,150.0 L405.5,153.8 L405.8,151.2 L406.7,152.4 L407.1,149.8 L407.9,151.0 L408.3,148.5 L408.8,152.2 L409.2,149.7 L409.5,147.1 L410.0,150.9 L410.4,148.3 L411.1,145.7 L411.3,149.5 L411.8,147.0 L412.5,148.3 L413.2,145.8 L413.9,147.1 L414.6,144.6 L414.6,148.4 L415.3,145.9 L416.0,143.4 L416.0,147.2 L416.7,144.7 L417.3,142.2 L417.4,146.0 L418.1,143.5 L418.8,144.8 L419.4,142.3 L420.2,143.6 L420.9,144.9 L421.0,141.1 L421.6,142.4 L422.1,143.7 L422.4,140.0 L423.0,141.3 L423.6,142.7 L423.9,138.9 L424.5,140.2 L425.1,141.6 L426.0,139.2 L426.6,140.5 L427.2,141.8 L427.5,138.1 L428.1,139.4 L428.7,140.8 L429.0,137.0 L429.6,138.4 L430.2,139.7 L430.5,135.9 L431.1,137.3 L431.7,138.6 L432.8,136.4 L433.2,137.8 L433.6,139.2 L434.4,135.5 L434.8,136.9 L435.2,138.3 L436.1,134.7 L436.5,136.1 L436.9,137.5 L437.7,133.8 L438.1,135.2 L438.5,136.7 L439.8,134.4 L440.1,135.8 L440.3,137.3 L441.6,133.7 L441.8,135.2 L442.0,136.6 L443.3,133.0 L443.5,134.5 L443.8,135.9 L445.2,133.8 L445.5,135.3 L445.7,136.7 L446.9,133.1 L447.2,134.6 L447.4,136.0 L448.7,132.5 L448.9,133.9 L449.1,135.4 L450.6,131.9 L450.7,133.3 L450.7,134.8 L452.4,132.9 L452.5,134.3 L452.6,135.8 L454.2,132.4 L454.3,133.9 L454.4,135.3 L456.0,131.9 L456.1,133.4 L456.2,134.9 L457.8,131.5 L457.9,132.9 L457.9,134.4 L459.6,132.5 L459.7,133.9 L459.8,135.4 L461.4,132.0 L461.5,133.5 L461.6,134.9 L463.2,131.5 L463.3,133.0 L463.3,134.5 L464.9,134.5 L464.9,133.0 L465.0,131.5 L466.6,134.9 L466.7,133.5 L466.8,132.0 L468.4,135.4 L468.5,133.9 L468.6,132.5 L470.3,134.4 L470.3,132.9 L470.4,131.5 L472.0,134.9 L472.1,133.4 L472.2,131.9 L473.8,135.3 L473.9,133.9 L474.0,132.4 L475.6,135.8 L475.7,134.3 L475.8,132.9 L477.5,134.8 L477.5,133.3 L477.6,131.9 L479.1,135.4 L479.3,133.9 L479.5,132.5 L480.8,136.0 L481.0,134.6 L481.3,133.1 L482.5,136.7 L482.7,135.3 L483.0,133.8 L484.4,135.9 L484.7,134.5 L484.9,133.0 L486.2,136.6 L486.4,135.2 L486.6,133.7 L487.9,137.3 L488.1,135.8 L488.4,134.4 L489.7,136.7 L490.1,135.2 L490.5,133.8 L491.3,137.5 L491.7,136.1 L492.1,134.7 L493.0,138.3 L493.4,136.9 L493.8,135.5 L494.6,139.2 L495.0,137.8 L495.4,136.4 L496.5,138.6 L497.1,137.3 L497.7,135.9 L498.0,139.7 L498.6,138.4 L499.2,137.0 L499.5,140.8 L500.1,139.4 L500.7,138.1 L501.0,141.8 L501.6,140.5 L502.2,139.2 L503.1,141.6 L503.7,140.2 L504.3,138.9 L504.6,142.7 L505.2,141.3 L505.8,140.0 L506.1,143.7 L506.6,142.4 L507.2,141.1 L507.3,144.9 L508.0,143.6 L508.8,142.3 L509.4,144.8 L510.1,143.5 L510.8,146.0 L510.9,142.2 L511.5,144.7 L512.2,147.2 L512.2,143.4 L512.9,145.9 L513.6,148.4 L513.6,144.6 L514.3,147.1 L515.0,145.8 L515.7,148.3 L516.4,147.0 L516.9,149.5 L517.1,145.7 L517.8,148.3 L518.2,150.9 L518.7,147.1 L519.0,149.7 L519.4,152.2 L519.9,148.5 L520.3,151.0 L521.1,149.8 L521.5,152.4 L522.4,151.2 L522.7,153.8 L523.2,150.0 L523.6,152.6 L524.0,155.1 L524.5,151.4 L524.8,153.9 L525.2,156.5 L525.7,152.8 L526.1,155.3 L526.9,154.1 L527.2,156.6 L528.2,155.6 L528.3,158.1 L529.1,154.5 L529.2,157.0 L529.3,159.6 L530.2,155.9 L530.3,158.5 L530.4,161.1 L531.3,157.4 L531.4,160.0 L532.4,158.9 L532.4,161.5 L533.5,163.0 L533.5,160.4 L534.5,164.5 L534.5,162.0 L534.5,159.4 L535.5,166.1 L535.5,163.5 L535.5,160.9 L536.5,165.0 L536.5,162.5 L537.4,166.5 L537.6,164.0 L538.3,168.1 L538.6,165.6 L539.1,169.8 L539.4,167.2 L539.7,164.6 L540.0,171.4 L540.3,168.8 L540.6,166.3 L541.1,170.5 L541.4,167.9 L542.3,169.5 L544.4,170.3 L545.4,172.5 L546.4,174.6 L547.4,176.8 L548.4,178.9 L549.4,181.0 L550.4,183.2 L557.7,188.0 L558.9,189.9 L560.1,191.9 L561.3,193.8 L562.5,195.8 L563.6,197.7 L564.8,199.6 L566.0,201.6 L567.2,203.5 L576.9,224.5 L577.8,226.4 L578.7,228.3 L579.7,230.1 L580.6,232.0 L581.5,233.9 L586.2,246.0 L586.9,247.5 L587.7,249.0 L588.5,250.5 L589.2,252.0 L594.6,262.9 L595.3,264.3 L596.1,265.7 L596.8,267.1 L600.6,276.2 L601.2,277.4 L601.8,278.6 L602.4,279.8 L606.5,287.7 L607.1,288.9 L607.7,290.1 L608.3,291.3 L611.2,298.0 L611.7,299.1 L612.2,300.2 L616.5,307.5 L616.9,308.4 L617.3,309.3 L620.6,315.3 L621.0,316.1 L621.4,316.9 L624.7,322.6 L625.1,323.4 L625.5,324.2 L628.9,329.8 L629.3,330.6 L629.7,331.4 L634.0,337.6 L636.9,341.2 L639.4,345.0 L642.0,348.9 L644.8,353.0 L647.9,357.0 L651.0,360.7 L654.2,364.8 L657.7,369.0 L661.3,372.7 L664.4,375.8 L667.2,378.8 L670.8,382.8 L674.0,385.7 L679.3,390.2 L684.9,394.3 L690.8,398.2 L697.2,401.3" fill="none" stroke="#009e73" stroke-width="1.9" stroke-linejoin="round"/><path d="M231.0,401.3 L237.4,398.2 L243.3,394.3 L248.9,390.2 L254.2,385.7 L257.4,382.8 L261.0,378.8 L263.8,375.8 L266.9,372.7 L270.5,369.0 L274.0,364.8 L277.2,360.7 L280.3,357.0 L283.4,353.0 L286.2,348.9 L288.8,345.0 L291.3,341.2 L294.2,337.6 L298.5,331.4 L298.9,330.6 L299.3,329.8 L302.7,324.2 L303.1,323.4 L303.5,322.6 L306.8,316.9 L307.2,316.1 L307.6,315.3 L310.9,309.3 L311.3,308.4 L311.7,307.5 L316.0,300.2 L316.5,299.1 L317.0,298.0 L319.9,291.3 L320.5,290.1 L321.1,288.9 L321.7,287.7 L325.8,279.8 L326.4,278.6 L327.0,277.4 L327.6,276.2 L331.4,267.1 L332.1,265.7 L332.9,264.3 L333.6,262.9 L339.0,252.0 L339.7,250.5 L340.5,249.0 L341.3,247.5 L342.0,246.0 L346.7,233.9 L347.6,232.0 L348.5,230.1 L349.5,228.3 L350.4,226.4 L351.3,224.5 L361.0,203.5 L362.2,201.6 L363.4,199.6 L364.6,197.7 L365.8,195.8 L366.9,193.8 L368.1,191.9 L369.3,189.9 L370.5,188.0 L377.8,183.2 L378.8,181.0 L379.8,178.9 L380.8,176.8 L381.8,174.6 L382.8,172.5 L383.8,170.3 L385.9,169.5 L386.8,167.9 L387.1,170.5 L387.6,166.3 L387.9,168.8 L388.2,171.4 L388.5,164.6 L388.8,167.2 L389.1,169.8 L389.6,165.6 L389.9,168.1 L390.6,164.0 L390.8,166.5 L391.7,162.5 L391.7,165.0 L392.7,160.9 L392.7,163.5 L392.7,166.1 L393.7,159.4 L393.7,162.0 L393.7,164.5 L394.7,160.4 L394.7,163.0 L395.8,161.5 L395.8,158.9 L396.8,160.0 L396.9,157.4 L397.8,161.1 L397.9,158.5 L398.0,155.9 L398.9,159.6 L399.0,157.0 L399.1,154.5 L399.9,158.1 L400.0,155.6 L401.0,156.6 L401.3,154.1 L402.1,155.3 L402.5,152.8 L403.0,156.5 L403.4,153.9 L403.7,151.4 L404.2,155.1 L404.6,152.6 L405.0,150.0 L405.5,153.8 L405.8,151.2 L406.7,152.4 L407.1,149.8 L407.9,151.0 L408.3,148.5 L408.8,152.2 L409.2,149.7 L409.5,147.1 L410.0,150.9 L410.4,148.3 L411.1,145.7 L411.3,149.5 L411.8,147.0 L412.5,148.3 L413.2,145.8 L413.9,147.1 L414.6,144.6 L414.6,148.4 L415.3,145.9 L416.0,143.4 L416.0,147.2 L416.7,144.7 L417.3,142.2 L417.4,146.0 L418.1,143.5 L418.8,144.8 L419.4,142.3 L420.2,143.6 L420.9,144.9 L421.0,141.1 L421.6,142.4 L422.1,143.7 L422.4,140.0 L423.0,141.3 L423.6,142.7 L423.9,138.9 L424.5,140.2 L425.1,141.6 L426.0,139.2 L426.6,140.5 L427.2,141.8 L427.5,138.1 L428.1,139.4 L428.7,140.8 L429.0,137.0 L429.6,138.4 L430.2,139.7 L430.5,135.9 L431.1,137.3 L431.7,138.6 L432.8,136.4 L433.2,137.8 L433.6,139.2 L434.4,135.5 L434.8,136.9 L435.2,138.3 L436.1,134.7 L436.5,136.1 L436.9,137.5 L437.7,133.8 L438.1,135.2 L438.5,136.7 L439.8,134.4 L440.1,135.8 L440.3,137.3 L441.6,133.7 L441.8,135.2 L442.0,136.6 L443.3,133.0 L443.5,134.5 L443.8,135.9 L445.2,133.8 L445.5,135.3 L445.7,136.7 L446.9,133.1 L447.2,134.6 L447.4,136.0 L448.7,132.5 L448.9,133.9 L449.1,135.4 L450.6,131.9 L450.7,133.3 L450.7,134.8 L452.4,132.9 L452.5,134.3 L452.6,135.8 L454.2,132.4 L454.3,133.9 L454.4,135.3 L456.0,131.9 L456.1,133.4 L456.2,134.9 L457.8,131.5 L457.9,132.9 L457.9,134.4 L459.6,132.5 L459.7,133.9 L459.8,135.4 L461.4,132.0 L461.5,133.5 L461.6,134.9 L463.2,131.5 L463.3,133.0 L463.3,134.5 L464.9,134.5 L464.9,133.0 L465.0,131.5 L466.6,134.9 L466.7,133.5 L466.8,132.0 L468.4,135.4 L468.5,133.9 L468.6,132.5 L470.3,134.4 L470.3,132.9 L470.4,131.5 L472.0,134.9 L472.1,133.4 L472.2,131.9 L473.8,135.3 L473.9,133.9 L474.0,132.4 L475.6,135.8 L475.7,134.3 L475.8,132.9 L477.5,134.8 L477.5,133.3 L477.6,131.9 L479.1,135.4 L479.3,133.9 L479.5,132.5 L480.8,136.0 L481.0,134.6 L481.3,133.1 L482.5,136.7 L482.7,135.3 L483.0,133.8 L484.4,135.9 L484.7,134.5 L484.9,133.0 L486.2,136.6 L486.4,135.2 L486.6,133.7 L487.9,137.3 L488.1,135.8 L488.4,134.4 L489.7,136.7 L490.1,135.2 L490.5,133.8 L491.3,137.5 L491.7,136.1 L492.1,134.7 L493.0,138.3 L493.4,136.9 L493.8,135.5 L494.6,139.2 L495.0,137.8 L495.4,136.4 L496.5,138.6 L497.1,137.3 L497.7,135.9 L498.0,139.7 L498.6,138.4 L499.2,137.0 L499.5,140.8 L500.1,139.4 L500.7,138.1 L501.0,141.8 L501.6,140.5 L502.2,139.2 L503.1,141.6 L503.7,140.2 L504.3,138.9 L504.6,142.7 L505.2,141.3 L505.8,140.0 L506.1,143.7 L506.6,142.4 L507.2,141.1 L507.3,144.9 L508.0,143.6 L508.8,142.3 L509.4,144.8 L510.1,143.5 L510.8,146.0 L510.9,142.2 L511.5,144.7 L512.2,147.2 L512.2,143.4 L512.9,145.9 L513.6,148.4 L513.6,144.6 L514.3,147.1 L515.0,145.8 L515.7,148.3 L516.4,147.0 L516.9,149.5 L517.1,145.7 L517.8,148.3 L518.2,150.9 L518.7,147.1 L519.0,149.7 L519.4,152.2 L519.9,148.5 L520.3,151.0 L521.1,149.8 L521.5,152.4 L522.4,151.2 L522.7,153.8 L523.2,150.0 L523.6,152.6 L524.0,155.1 L524.5,151.4 L524.8,153.9 L525.2,156.5 L525.7,152.8 L526.1,155.3 L526.9,154.1 L527.2,156.6 L528.2,155.6 L528.3,158.1 L529.1,154.5 L529.2,157.0 L529.3,159.6 L530.2,155.9 L530.3,158.5 L530.4,161.1 L531.3,157.4 L531.4,160.0 L532.4,158.9 L532.4,161.5 L533.5,163.0 L533.5,160.4 L534.5,164.5 L534.5,162.0 L534.5,159.4 L535.5,166.1 L535.5,163.5 L535.5,160.9 L536.5,165.0 L536.5,162.5 L537.4,166.5 L537.6,164.0 L538.3,168.1 L538.6,165.6 L539.1,169.8 L539.4,167.2 L539.7,164.6 L540.0,171.4 L540.3,168.8 L540.6,166.3 L541.1,170.5 L541.4,167.9 L542.3,169.5 L544.4,170.3 L545.4,172.5 L546.4,174.6 L547.4,176.8 L548.4,178.9 L549.4,181.0 L550.4,183.2 L557.7,188.0 L558.9,189.9 L560.1,191.9 L561.3,193.8 L562.5,195.8 L563.6,197.7 L564.8,199.6 L566.0,201.6 L567.2,203.5 L576.9,224.5 L577.8,226.4 L578.7,228.3 L579.7,230.1 L580.6,232.0 L581.5,233.9 L586.2,246.0 L586.9,247.5 L587.7,249.0 L588.5,250.5 L589.2,252.0 L594.6,262.9 L595.3,264.3 L596.1,265.7 L596.8,267.1 L600.6,276.2 L601.2,277.4 L601.8,278.6 L602.4,279.8 L606.5,287.7 L607.1,288.9 L607.7,290.1 L608.3,291.3 L611.2,298.0 L611.7,299.1 L612.2,300.2 L616.5,307.5 L616.9,308.4 L617.3,309.3 L620.6,315.3 L621.0,316.1 L621.4,316.9 L624.7,322.6 L625.1,323.4 L625.5,324.2 L628.9,329.8 L629.3,330.6 L629.7,331.4 L634.0,337.6 L636.9,341.2 L639.4,345.0 L642.0,348.9 L644.8,353.0 L647.9,357.0 L651.0,360.7 L654.2,364.8 L657.7,369.0 L661.3,372.7 L664.4,375.8 L667.2,378.8 L670.8,382.8 L674.0,385.7 L679.3,390.2 L684.9,394.3 L690.8,398.2 L697.2,401.3" fill="none" stroke="none" marker-start="url(#mg)" marker-mid="url(#mg)" marker-end="url(#mg)"/>
<!-- border -->
<rect x="168.6" y="96.5" width="591.0" height="359.0" fill="none" stroke="#000" stroke-width="1.3"/>
</svg>
</body></html>
